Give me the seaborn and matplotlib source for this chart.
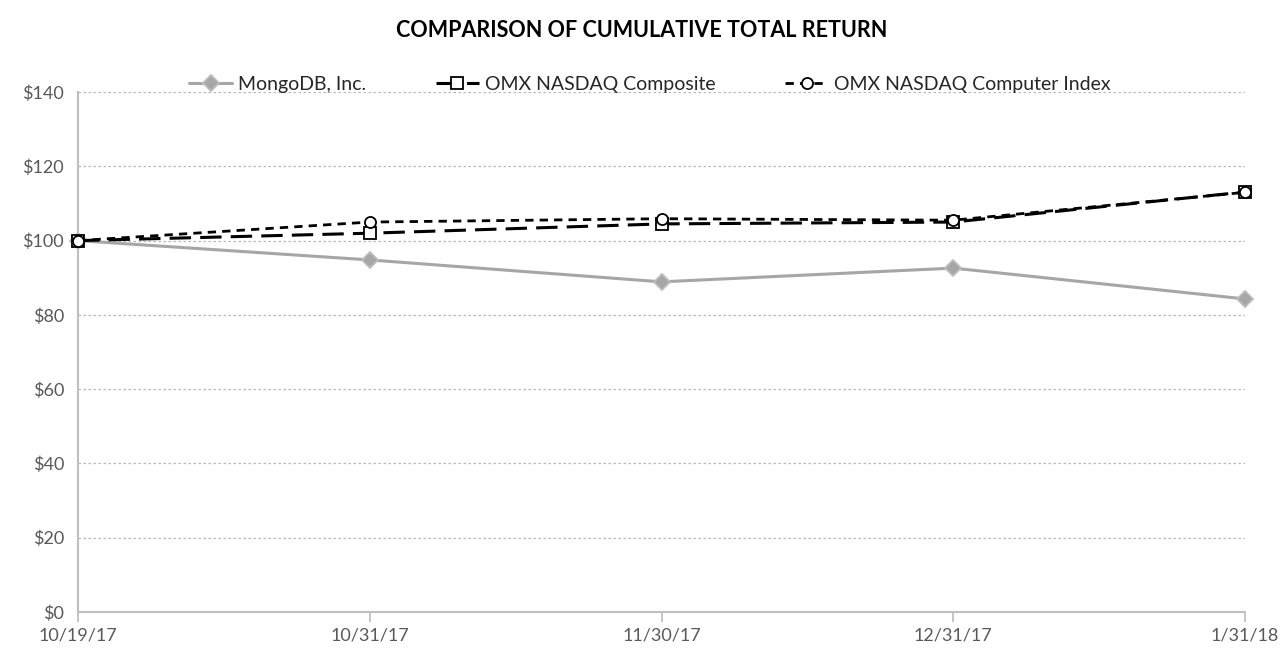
import matplotlib
matplotlib.use("Agg")
import matplotlib.pyplot as plt
import seaborn as sns
import pandas as pd

# data
dates = ["10/19/17", "10/31/17", "11/30/17", "12/31/17", "1/31/18"]
mongodb = [100.0, 94.8, 88.9, 92.6, 84.3]
nasdaq_composite = [100.0, 102.0, 104.5, 105.0, 113.1]
nasdaq_computer = [100.0, 105.0, 105.9, 105.5, 113.0]

df = pd.DataFrame({
    "date": dates * 3,
    "pos": list(range(len(dates))) * 3,
    "value": mongodb + nasdaq_composite + nasdaq_computer,
    "series": ["MongoDB, Inc."] * 5 + ["OMX NASDAQ Composite"] * 5
              + ["OMX NASDAQ Computer Index"] * 5,
})

sns.set_style("white")
plt.rcParams["font.family"] = ["Lato", "DejaVu Sans"]

fig = plt.figure(figsize=(12.83, 6.53), dpi=100)
ax = fig.add_axes([0.0608, 0.0628, 0.9096, 0.7962])

styles = {
    "MongoDB, Inc.": dict(color="#a6a6a6", marker="D", ms=8, mfc="#a6a6a6",
                          mec="#bdbdbd", lw=2.2, ls="-"),
    "OMX NASDAQ Composite": dict(color="black", marker="s", ms=8, mfc="white",
                                 mec="black", lw=2.2, ls=(0, (7, 3))),
    "OMX NASDAQ Computer Index": dict(color="black", marker="o", ms=8, mfc="white",
                                      mec="black", lw=2.0, ls=(0, (3, 2.2))),
}

for name, st in styles.items():
    sub = df[df.series == name]
    sns.lineplot(data=sub, x="pos", y="value", ax=ax, color=st["color"],
                 linewidth=st["lw"], linestyle=st["ls"], marker=st["marker"],
                 markersize=st["ms"], markerfacecolor=st["mfc"],
                 markeredgecolor=st["mec"], markeredgewidth=1.3,
                 label=name, zorder=3)

for line in ax.lines:
    line.set_clip_on(False)

ax.set_xlim(0, len(dates) - 1)
ax.set_ylim(0, 140)
ax.set_yticks(range(0, 141, 20))
ax.set_yticklabels([f"${v}" for v in range(0, 141, 20)])
ax.set_xticks(range(len(dates)))
ax.set_xticklabels(dates)
ax.set_xlabel("")
ax.set_ylabel("")

ax.yaxis.grid(True, color="#b8b8b8", linestyle=(0, (2, 2)), linewidth=0.9)
ax.xaxis.grid(False)
for s in ["top", "right"]:
    ax.spines[s].set_visible(False)
for s in ["left", "bottom"]:
    ax.spines[s].set_color("#bfbfbf")
    ax.spines[s].set_linewidth(1.5)
ax.tick_params(axis="x", bottom=True, colors="#bfbfbf", length=7, width=1.3,
               direction="out", labelcolor="#595959", labelsize=13, pad=4)
ax.tick_params(axis="y", colors="#bfbfbf", length=0, labelcolor="#595959",
               labelsize=13, pad=10)

fig.suptitle("COMPARISON OF CUMULATIVE TOTAL RETURN", x=0.5, y=0.97,
             fontsize=15.5, fontweight="bold", color="black")

ax.legend(loc="lower center", bbox_to_anchor=(0.49, 0.965), ncol=3, frameon=False,
          fontsize=14, handlelength=2.2, columnspacing=3.6, handletextpad=0.3,
          labelcolor="#262626")

fig.savefig("out.png", dpi=100)
